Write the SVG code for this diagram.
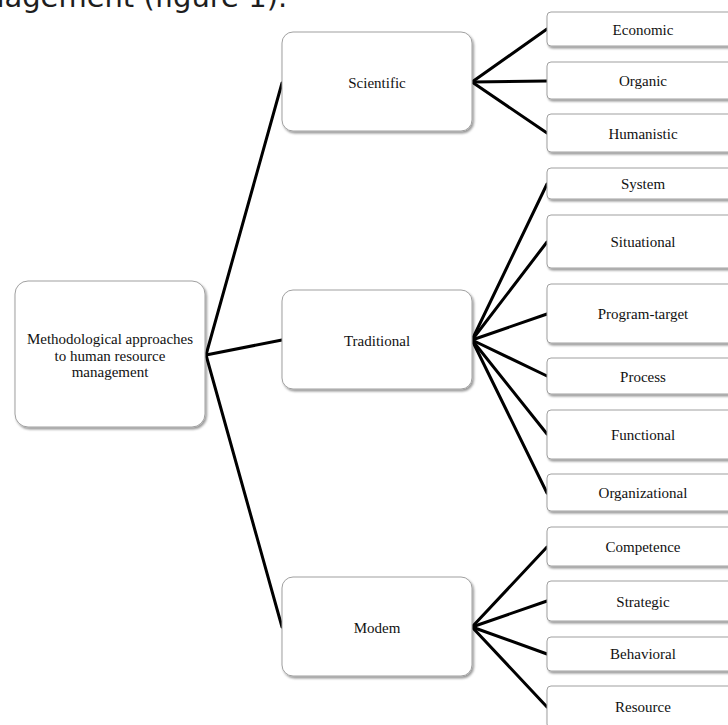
<svg xmlns="http://www.w3.org/2000/svg" width="728" height="725" viewBox="0 0 728 725">
<defs>
<filter id="sh" x="-10%" y="-10%" width="130%" height="140%">
<feDropShadow dx="1.5" dy="2" stdDeviation="1.2" flood-color="#000" flood-opacity="0.4"/>
</filter>
<style>
.box{fill:#fff;stroke:#a0a0a0;stroke-width:1;filter:url(#sh)}
.t{font-family:"Liberation Serif","Times New Roman",serif;font-size:15px;fill:#111;text-anchor:middle}
.c line{stroke:#000;stroke-width:3;stroke-linecap:round}
.hdr{font-family:"DejaVu Sans",Verdana,sans-serif;font-size:29px;fill:#1e1e1e}
</style>
</defs>
<rect width="728" height="725" fill="#fff"/>
<text class="hdr" x="-14" y="7">nagement (figure 1).</text>

<g id="connectors" class="c">
<line x1="206" y1="355" x2="282" y2="83"/>
<line x1="206" y1="355" x2="282" y2="340"/>
<line x1="206" y1="355" x2="282" y2="627"/>
<line x1="472" y1="82" x2="547" y2="29"/>
<line x1="472" y1="82" x2="547" y2="81"/>
<line x1="472" y1="82" x2="547" y2="133"/>
<line x1="472" y1="340" x2="547" y2="184"/>
<line x1="472" y1="340" x2="547" y2="242"/>
<line x1="472" y1="340" x2="547" y2="314"/>
<line x1="472" y1="340" x2="547" y2="376"/>
<line x1="472" y1="340" x2="547" y2="434"/>
<line x1="472" y1="340" x2="547" y2="493"/>
<line x1="472" y1="627" x2="547" y2="547"/>
<line x1="472" y1="627" x2="547" y2="601"/>
<line x1="472" y1="627" x2="547" y2="654"/>
<line x1="472" y1="627" x2="547" y2="707"/>
</g>

<g id="root">
<rect class="box" x="15" y="281" width="190" height="146" rx="13"/>
<text class="t" x="110" y="344">Methodological approaches</text>
<text class="t" x="110" y="361">to human resource</text>
<text class="t" x="110" y="377">management</text>
</g>

<g id="scientific">
<rect class="box" x="282" y="32" width="190" height="99" rx="11"/>
<text class="t" x="377" y="88">Scientific</text>
</g>
<g id="traditional">
<rect class="box" x="282" y="290" width="190" height="99" rx="11"/>
<text class="t" x="377" y="346">Traditional</text>
</g>
<g id="modern">
<rect class="box" x="282" y="577" width="190" height="99" rx="11"/>
<text class="t" x="377" y="633">Modem</text>
</g>

<g id="economic">
<rect class="box" x="547" y="12" width="195" height="34" rx="4"/>
<text class="t" x="643" y="35">Economic</text>
</g>
<g id="organic">
<rect class="box" x="547" y="62" width="195" height="37" rx="4"/>
<text class="t" x="643" y="86">Organic</text>
</g>
<g id="humanistic">
<rect class="box" x="547" y="114" width="195" height="38" rx="4"/>
<text class="t" x="643" y="139">Humanistic</text>
</g>
<g id="system">
<rect class="box" x="547" y="168" width="195" height="31" rx="4"/>
<text class="t" x="643" y="189">System</text>
</g>
<g id="situational">
<rect class="box" x="547" y="215" width="195" height="53" rx="4"/>
<text class="t" x="643" y="247">Situational</text>
</g>
<g id="program-target">
<rect class="box" x="547" y="284" width="195" height="59" rx="4"/>
<text class="t" x="643" y="319">Program-target</text>
</g>
<g id="process">
<rect class="box" x="547" y="358" width="195" height="36" rx="4"/>
<text class="t" x="643" y="382">Process</text>
</g>
<g id="functional">
<rect class="box" x="547" y="410" width="195" height="49" rx="4"/>
<text class="t" x="643" y="440">Functional</text>
</g>
<g id="organizational">
<rect class="box" x="547" y="474" width="195" height="37" rx="4"/>
<text class="t" x="643" y="498">Organizational</text>
</g>
<g id="competence">
<rect class="box" x="547" y="527" width="195" height="39" rx="4"/>
<text class="t" x="643" y="552">Competence</text>
</g>
<g id="strategic">
<rect class="box" x="547" y="581" width="195" height="40" rx="4"/>
<text class="t" x="643" y="607">Strategic</text>
</g>
<g id="behavioral">
<rect class="box" x="547" y="637" width="195" height="34" rx="4"/>
<text class="t" x="643" y="659">Behavioral</text>
</g>
<g id="resource">
<rect class="box" x="547" y="686" width="195" height="42" rx="4"/>
<text class="t" x="643" y="712">Resource</text>
</g>
</svg>
